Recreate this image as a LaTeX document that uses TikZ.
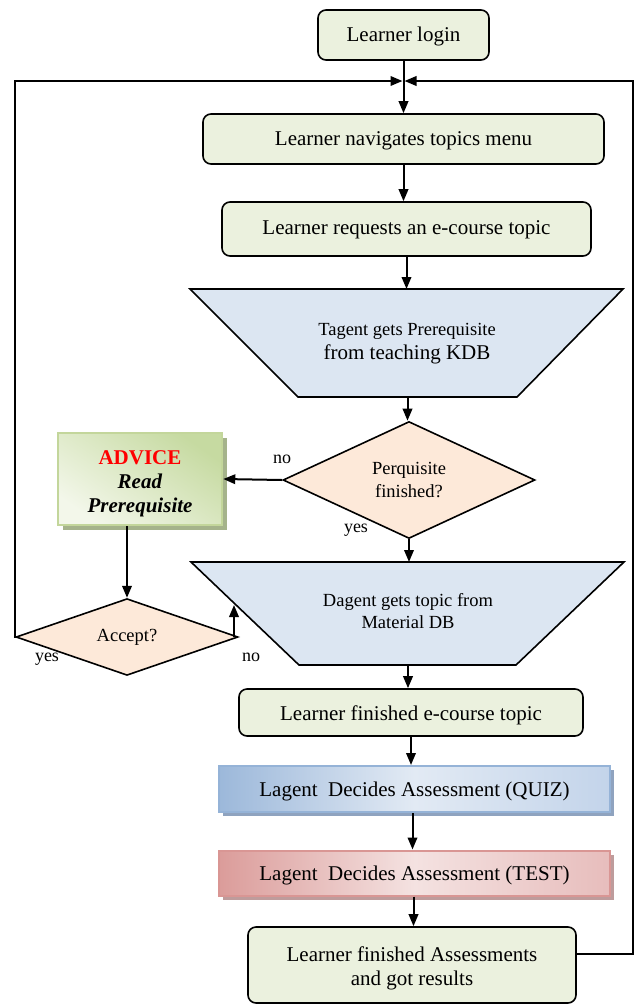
\documentclass[tikz,border=0pt]{standalone}
\usepackage{fontspec}
\setmainfont{Liberation Serif}
\usetikzlibrary{arrows.meta,shapes.geometric,shadows,calc}
\definecolor{boxgreen}{HTML}{EBF1DE}
\definecolor{trapblue}{HTML}{DCE6F2}
\definecolor{decpeach}{HTML}{FDE9D9}
\definecolor{advborder}{HTML}{C3D69B}
\definecolor{advdark}{HTML}{C6DAA1}
\definecolor{advlight}{HTML}{F3F7EA}
\definecolor{advshadow}{HTML}{A5B38B}
\definecolor{quizborder}{HTML}{95B3D7}
\definecolor{quizdark}{HTML}{9CB8DA}
\definecolor{quizlight}{HTML}{E2EAF4}
\definecolor{quizright}{HTML}{C3D4EA}
\definecolor{quizshadow}{HTML}{8FA3BF}
\definecolor{testborder}{HTML}{D99694}
\definecolor{testdark}{HTML}{DB9C9A}
\definecolor{testlight}{HTML}{F4E2E1}
\definecolor{testright}{HTML}{E7BDBC}
\definecolor{testshadow}{HTML}{BE9C9C}
\newcommand{\lowtext}[2]{\raisebox{-#1}[\height][\depth]{\begin{tabular}{@{}c@{}}#2\end{tabular}}}
\begin{document}
\begin{tikzpicture}[x=1pt,y=-1pt,
  font=\fontsize{21}{24}\selectfont,
  roundbox/.style={draw=black, line width=1.6pt, rounded corners=8pt, fill=boxgreen, inner sep=0pt, align=center},
  trapshape/.style={draw=black, line width=1.6pt, fill=trapblue},
  decision/.style={diamond, draw=black, line width=1.6pt, fill=decpeach, inner sep=0pt, align=center, font=\fontsize{18.5}{23}\selectfont},
  conn/.style={line width=2pt, -{Triangle[length=12pt,width=9.5pt]}},
  lbl/.style={font=\fontsize{18}{20}\selectfont, inner sep=0pt},
  smalltext/.style={font=\fontsize{18.5}{22}\selectfont, align=center, inner sep=0pt},
  advicebox/.style={draw=advborder, line width=2.5pt, inner sep=0pt, align=center,
     bottom color=advlight, top color=advdark, shading angle=-35,
     drop shadow={shadow xshift=5pt, shadow yshift=-5pt, fill=advshadow, opacity=1}},
  quizbox/.style={draw=quizborder, line width=2pt, inner sep=0pt,
     left color=quizdark, right color=quizright, middle color=quizlight,
     drop shadow={shadow xshift=4pt, shadow yshift=-4pt, fill=quizshadow, opacity=1}},
  testbox/.style={draw=testborder, line width=2pt, inner sep=0pt,
     left color=testdark, right color=testright, middle color=testlight,
     drop shadow={shadow xshift=4pt, shadow yshift=-4pt, fill=testshadow, opacity=1}}
]
\useasboundingbox (0,0) rectangle (637,1005);

% top boxes
\node[roundbox, minimum width=171pt, minimum height=50pt] (login) at (403.5,35) {\lowtext{2pt}{Learner login}};
\node[roundbox, minimum width=401pt, minimum height=50pt] (nav) at (403.5,139) {\lowtext{2pt}{Learner navigates topics menu}};
\node[roundbox, minimum width=369pt, minimum height=54pt] (req) at (406.5,229) {\lowtext{1pt}{Learner requests an e-course topic}};

% Tagent trapezoid
\filldraw[trapshape] (190,289) -- (623,289) -- (517,397) -- (298,397) -- cycle;
\coordinate (tagT) at (406.5,289);
\coordinate (tagB) at (407.5,397);
\node[align=center, inner sep=0pt] (tagtext) at (407,344)
  {{\fontsize{18.5}{24}\selectfont Tagent gets Prerequisite}\\from teaching KDB};

% decision
\node[decision, minimum width=252pt, minimum height=117pt] (perq) at (409,480) {Perquisite\\finished?};

% advice
\node[advicebox, minimum width=164pt, minimum height=92pt] (advice) at (140,479)
  {\lowtext{5pt}{\textcolor{red}{\textbf{ADVICE}}\\\textbf{\textit{Read}}\\\textbf{\textit{Prerequisite}}}};

% Dagent trapezoid
\filldraw[trapshape] (191,562) -- (624,562) -- (516,665) -- (299,665) -- cycle;
\coordinate (dagT) at (408,562);
\coordinate (dagB) at (408,665);
\coordinate (dagL) at (234,605);
\node[smalltext] (dagtext) at (408,611) {Dagent gets topic from\\Material DB};

% accept
\node[decision, minimum width=222pt, minimum height=76pt] (acc) at (127,637) {Accept?};

% lower boxes
\node[roundbox, minimum width=344pt, minimum height=47pt] (fin1) at (411,712.5) {\lowtext{3pt}{Learner finished e-course topic}};
\node[quizbox, minimum width=391pt, minimum height=46pt] (quiz) at (414.5,789) {\lowtext{3pt}{Lagent\ \ Decides Assessment (QUIZ)}};
\node[testbox, minimum width=391pt, minimum height=45pt] (test) at (414.5,873) {\lowtext{3pt}{Lagent\ \ Decides Assessment (TEST)}};
\node[roundbox, minimum width=328pt, minimum height=76pt] (fin) at (412,965) {\lowtext{4pt}{Learner finished Assessments\\and got results}};

% loop coordinates
\coordinate (j) at (403.5,81);
\coordinate (lc) at (15,81);
\coordinate (rc) at (633,81);

% connectors
\draw[conn] (login.south) -- (nav.north);
\draw[conn] (nav.south) -- (nav.south |- req.north);
\draw[conn] (req.south) -- (req.south |- tagT);
\draw[conn] (tagB) -- (tagB |- perq.north);
\draw[conn] (perq.west) -- (advice.east);
\draw[conn] (perq.south) -- (perq.south |- dagT);
\draw[conn] (acc.north |- advice.south) -- (acc.north);
\draw[conn] (dagL |- acc.east) -- (dagL);
\draw[conn, shorten >=1pt] (acc.west) -| (lc) -- (j);
\draw[conn, shorten >=1pt] ([yshift=11pt]fin.east) -| (rc) -- (j);
\draw[conn] (dagB) -- (dagB |- fin1.north);
\draw[conn] (fin1.south) -- (fin1.south |- quiz.north);
\draw[conn] ([xshift=-2pt]quiz.south) -- ([xshift=-2pt]quiz.south |- test.north);
\draw[conn] ([xshift=-1pt]test.south) -- ([xshift=-1pt]test.south |- fin.north);

% labels
\node[lbl] (lno1) at (282,459) {no};
\node[lbl] (lyes1) at (356,530) {yes};
\node[lbl] (lyes2) at (47,659) {yes};
\node[lbl] (lno2) at (251,657) {no};
\end{tikzpicture}
\end{document}
